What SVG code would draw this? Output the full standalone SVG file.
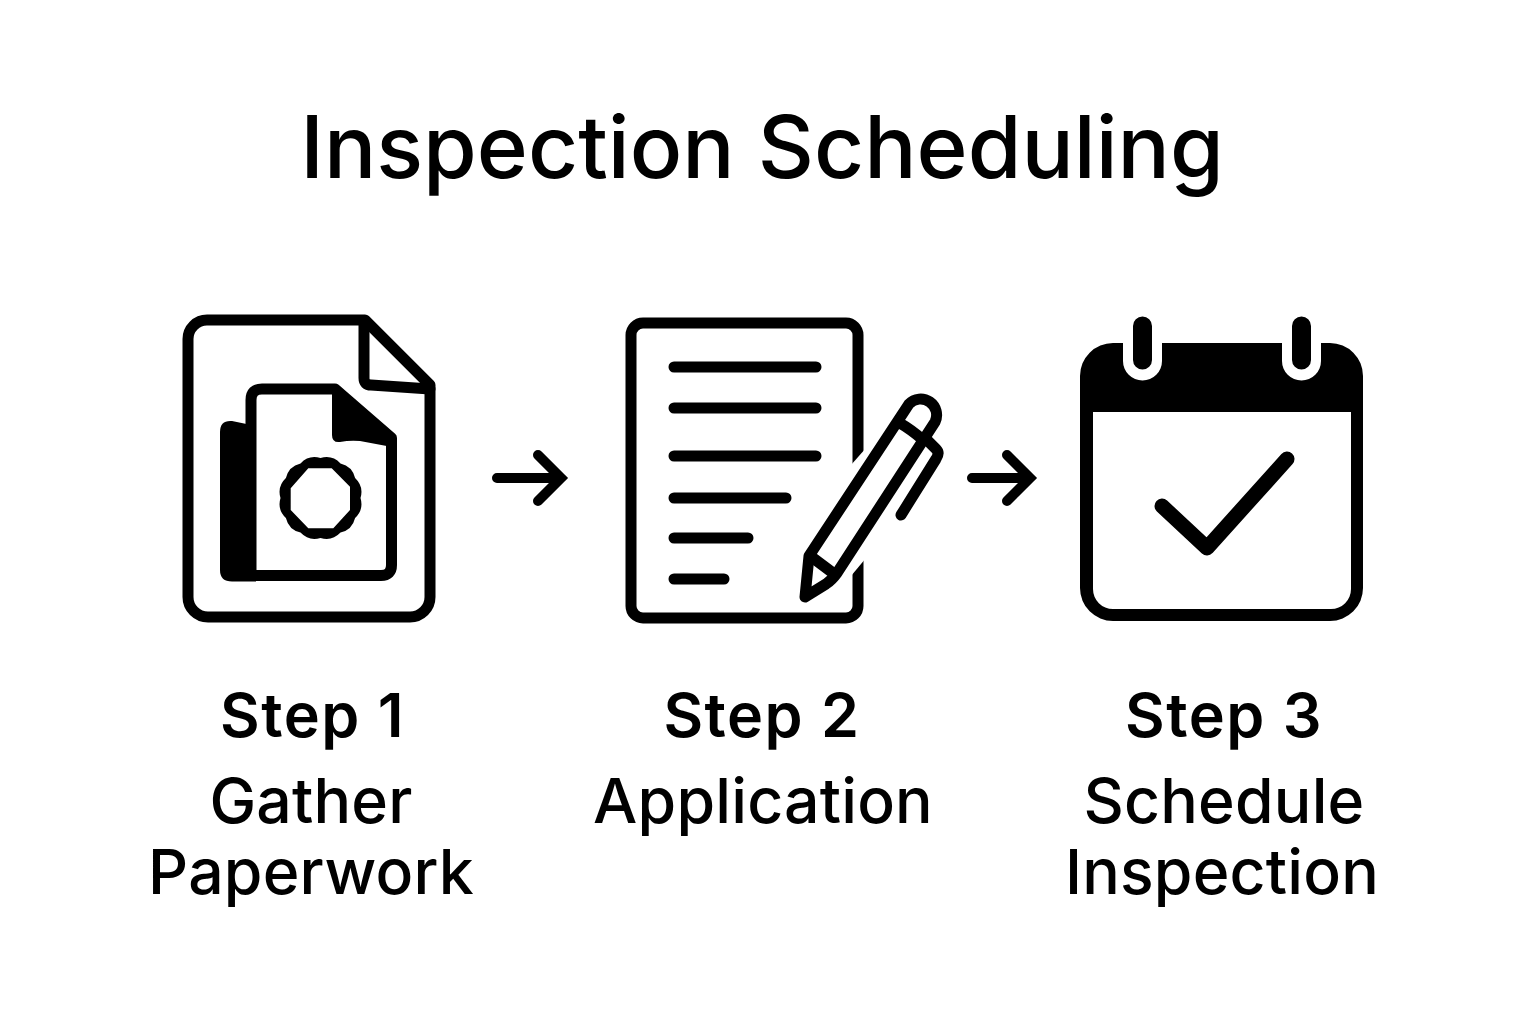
<svg xmlns="http://www.w3.org/2000/svg" width="1536" height="1024" viewBox="0 0 1536 1024">
<style>
text{font-family:Inter,"Liberation Sans",sans-serif;fill:#000;text-anchor:middle}
.title{font-size:87px;font-weight:500}
.step{font-size:61px;font-weight:600;letter-spacing:1.5px}
.lab{font-size:62.500px;font-weight:450;letter-spacing:.2px}
.s{fill:none;stroke:#000;stroke-width:11;stroke-linecap:round;stroke-linejoin:round}
.w{fill:#fff;stroke:#000;stroke-width:11;stroke-linecap:round;stroke-linejoin:round}
.b{fill:#000}
.a{fill:none;stroke:#000;stroke-width:10;stroke-linecap:round;stroke-linejoin:miter}
</style>
<rect width="1536" height="1024" fill="#fff"/>
<text class="title" x="762" y="178">Inspection Scheduling</text>
<g id="step1">
<path class="s" d="M207 320H365L430 385V597A20 20 0 0 1 410 617H208A20 20 0 0 1 188 597V339A19 19 0 0 1 207 320Z"/>
<path class="s" d="M364 322V378Q364 385 371 385L430 389"/>
<path class="b" d="M220 432Q220 420 232 421L256 426V581.500H232Q220 581.500 220 570Z"/>
<path class="w" d="M251 400Q251 389 262 389H335L391.500 438V565Q391.500 575.500 381 575.500H251Z"/>
<path class="b" d="M332 392H337L392 438V447L360 441Q350 440 340 442Q332 443 332 435Z"/>
<path class="b" fill-rule="evenodd" d="M360.500 498Q364 486.400 355.100 478Q352.300 466.200 340.500 463.400Q332.100 454.500 320.500 458Q308.900 454.500 300.500 463.400Q288.700 466.200 285.900 478Q277 486.400 280.500 498Q277 509.600 285.900 518Q288.700 529.800 300.500 532.600Q308.900 541.500 320.500 538Q332.100 541.500 340.500 532.600Q352.300 529.800 355.100 518Q364 509.600 360.500 498ZM308.300 468.300L290.700 488.300V510L308.300 528.300H333.300L350 510V486.700L331.700 468.300Z"/>
<text class="step" x="312.500" y="737">Step 1</text>
<text class="lab" x="311" y="823">Gather</text>
<text class="lab" x="311" y="894">Paperwork</text>
</g>
<g id="step2">
<rect class="s" x="631" y="323" width="227" height="295" rx="12"/>
<path fill="#fff" d="M851 465L866 448V558L851 576Z"/>
<path class="s" d="M674 367H816M674 408H816M674 456H816M674 498H786M674 538H748M674 579H724"/>
<path class="w" d="M809 556L909 404A16 16 0 0 1 935 422L837 573Q832 580 826 584L805 597Z"/>
<path class="s" d="M898 422Q912 430 923 440M813 558L833 573M927 440L936 449Q940 453 936 459L901 515"/>
<text class="step" x="762" y="737">Step 2</text>
<text class="lab" x="763" y="823">Application</text>
</g>
<g id="step3">
<path class="b" fill-rule="evenodd" d="M1113 343H1330A33 33 0 0 1 1363 376V588A33 33 0 0 1 1330 621H1113A33 33 0 0 1 1080 588V376A33 33 0 0 1 1113 343ZM1093 412V589A20 20 0 0 0 1113 609H1331A20 20 0 0 0 1351 589V412Z"/>
<path fill="#fff" d="M1123 335H1162V361A19.500 19.500 0 0 1 1123 361ZM1282 335H1321V361A19.500 19.500 0 0 1 1282 361Z"/>
<path fill="none" stroke="#000" stroke-width="19" stroke-linecap="round" d="M1142.500 326V360M1301.500 326V360"/>
<path fill="none" stroke="#000" stroke-width="15" stroke-linecap="round" stroke-linejoin="round" d="M1162 506L1207 548L1287 459"/>
<text class="step" x="1224" y="737">Step 3</text>
<text class="lab" x="1224" y="823">Schedule</text>
<text class="lab" x="1222" y="894">Inspection</text>
</g>
<g id="connectors">
<path class="a" d="M497 478H560M538 455L561 478L538 501"/>
<path class="a" d="M972 478H1029M1007 455L1030 478L1007 501"/>
</g>
</svg>
